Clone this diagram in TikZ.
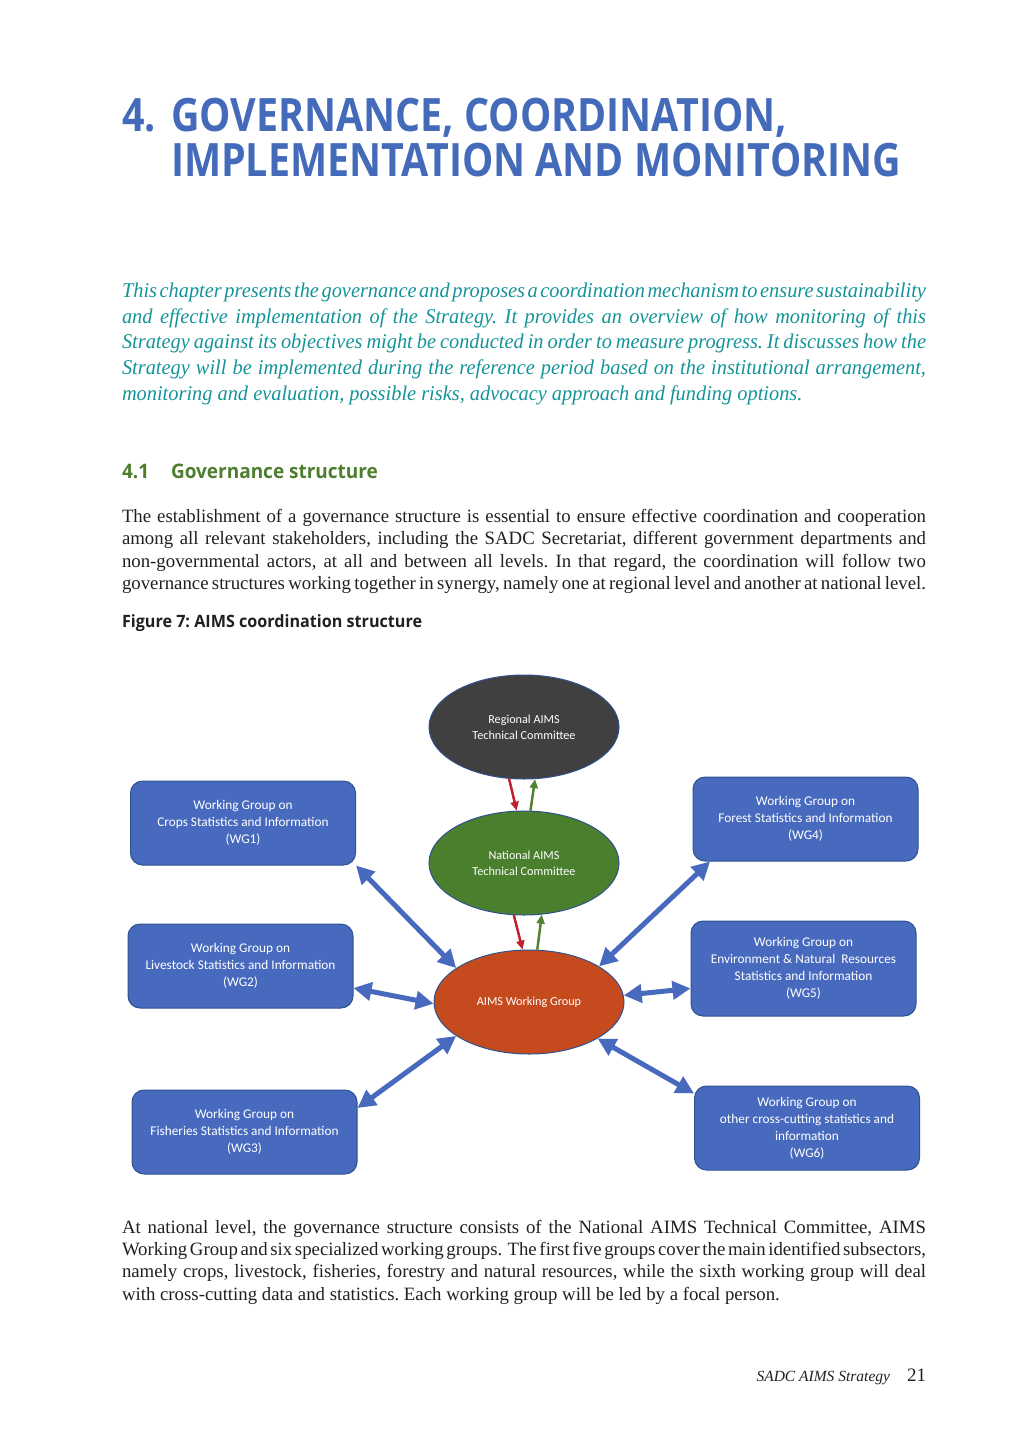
\documentclass[tikz,border=0pt]{standalone}
\usepackage{fontspec}
\setmainfont{Liberation Serif}
\newfontfamily\titlefont[FakeStretch=0.857]{Open Sans}
\newfontfamily\headfont[FakeStretch=0.95]{Open Sans}
\newfontfamily\italfont[FakeStretch=0.97]{Liberation Serif}
\newfontfamily\boxfont{Carlito}
\usetikzlibrary{arrows.meta,shapes.geometric}
\definecolor{titleblue}{RGB}{68,107,186}
\definecolor{tealtxt}{RGB}{20,148,152}
\definecolor{secgreen}{RGB}{78,125,48}
\definecolor{bodytxt}{RGB}{35,31,32}
\definecolor{wgblue}{RGB}{72,106,190}
\definecolor{wgborder}{RGB}{47,82,143}
\definecolor{regfill}{RGB}{64,64,64}
\definecolor{natfill}{RGB}{74,127,46}
\definecolor{aimsfill}{RGB}{197,75,30}
\definecolor{redarrow}{RGB}{192,32,48}
\definecolor{greenarrow}{RGB}{84,130,53}
\newcommand\jl[1]{{\spaceskip=.25em plus .4em minus .13em\makebox[804pt][s]{#1}}}
\frenchspacing
\begin{document}
\begin{tikzpicture}[x=1pt,y=-1pt,
  txt/.style={anchor=base west, inner sep=0, outer sep=0},
  wg/.style={draw=wgborder, fill=wgblue, rounded corners=12pt, minimum width=225pt,
    minimum height=84pt, text=white, align=center, inner sep=0, line width=1pt,
    font=\boxfont\fontsize{13.3}{17}\selectfont},
  ell/.style={ellipse, draw=wgborder, minimum width=190pt, minimum height=104pt,
    text=white, align=center, inner sep=0, line width=1pt,
    font=\boxfont\fontsize{12.2}{16}\selectfont},
  bidir/.style={draw=wgblue, line width=5pt,
    {Triangle[length=18pt,width=18pt]}-{Triangle[length=18pt,width=18pt]}},
  redarr/.style={draw=redarrow, line width=2.5pt, -{Triangle[length=9pt,width=8pt]}},
  greenarr/.style={draw=greenarrow, line width=2.5pt, -{Triangle[length=9pt,width=8pt]}},
  titletxt/.style={txt, text=titleblue, font=\titlefont\bfseries\fontsize{46}{50}\selectfont},
  itxt/.style={txt, text=tealtxt, font=\italfont\itshape\fontsize{21}{25}\selectfont},
  btxt/.style={txt, text=bodytxt, font=\fontsize{18.8}{22}\selectfont}
]
\useasboundingbox (0,0) rectangle (1024,1448);

% Title
\node[titletxt] (t0) at (122,131) {4.};
\node[titletxt] (t1) at (171,131) {GOVERNANCE, COORDINATION,};
\node[titletxt] (t2) at (171,176) {IMPLEMENTATION AND MONITORING};

% Italic introduction
\node[itxt] (i1) at (122,297) {\jl{This chapter presents the governance and proposes a coordination mechanism to ensure sustainability}};
\node[itxt] (i2) at (122,323) {\jl{and effective implementation of the Strategy. It provides an overview of how monitoring of this}};
\node[itxt] (i3) at (122,348) {\jl{Strategy against its objectives might be conducted in order to measure progress. It discusses how the}};
\node[itxt] (i4) at (122,374) {\jl{Strategy will be implemented during the reference period based on the institutional arrangement,}};
\node[itxt] (i5) at (122,400) {monitoring and evaluation, possible risks, advocacy approach and funding options.};

% Section heading
\node[txt, text=secgreen, font=\headfont\bfseries\fontsize{20}{24}\selectfont] (s0) at (122,478) {4.1};
\node[txt, text=secgreen, font=\headfont\bfseries\fontsize{20}{24}\selectfont] (s1) at (171,478) {Governance structure};

% Body paragraph
\node[btxt] (b1) at (122,522) {\jl{The establishment of a governance structure is essential to ensure effective coordination and cooperation}};
\node[btxt] (b2) at (122,544) {\jl{among all relevant stakeholders, including the SADC Secretariat, different government departments and}};
\node[btxt] (b3) at (122,567) {\jl{non-governmental actors, at all and between all levels. In that regard, the coordination will follow two}};
\node[btxt] (b4) at (122,589) {\jl{governance structures working together in synergy, namely one at regional level and another at national level.}};

% Figure caption
\node[txt, text=bodytxt, font=\headfont\bfseries\fontsize{17}{20}\selectfont] (fc) at (122,627) {Figure 7: AIMS coordination structure};

% Diagram
\node[ell, fill=regfill] (reg) at (524,727) {Regional AIMS\\Technical Committee};
\node[ell, fill=natfill] (nat) at (524,863) {National AIMS\\Technical Committee};
\node[ell, fill=aimsfill] (aims) at (529,1002) {AIMS Working Group};

\node[wg] (wg1) at (243,823) {Working Group on\\Crops Statistics and Information\\(WG1)};
\node[wg] (wg2) at (240.5,966) {Working Group on\\Livestock Statistics and Information\\(WG2)};
\node[wg] (wg3) at (244.5,1132) {Working Group on\\Fisheries Statistics and Information\\(WG3)};
\node[wg] (wg4) at (805.5,819) {Working Group on\\Forest Statistics and Information\\(WG4)};
\node[wg, minimum height=95pt] (wg5) at (803.5,968.5) {Working Group on\\Environment \& Natural\ \ Resources\\Statistics and Information\\(WG5)};
\node[wg] (wg6) at (807,1128) {Working Group on\\other cross-cutting statistics and\\information\\(WG6)};

\draw[redarr] (reg.254) -- (nat.98);
\draw[greenarr] (nat.83) -- (reg.282);
\draw[redarr] (nat.259) -- (aims.97);
\draw[greenarr] (aims.81) -- (nat.289);

\draw[bidir] (wg1.south east) -- (aims.155);
\draw[bidir] (wg2.349) -- (aims.181);
\draw[bidir] (wg3.12) -- (aims.205);
\draw[bidir] (wg4.204) -- (aims.27);
\draw[bidir] (aims.4) -- (wg5.190);
\draw[bidir] (aims.332) -- (wg6.163);

% Bottom paragraph
\node[btxt] (c1) at (122,1233) {\jl{At national level, the governance structure consists of the National AIMS Technical Committee, AIMS}};
\node[btxt] (c2) at (122,1255) {\jl{Working Group and six specialized working groups.\ \ The first five groups cover the main identified subsectors,}};
\node[btxt] (c3) at (122,1277) {\jl{namely crops, livestock, fisheries, forestry and natural resources, while the sixth working group will deal}};
\node[btxt] (c4) at (122,1300) {with cross-cutting data and statistics. Each working group will be led by a focal person.};

% Footer
\node[txt, anchor=base east, text=bodytxt, font=\itshape\fontsize{15.5}{18}\selectfont] (f1) at (890,1381) {SADC AIMS Strategy};
\node[txt, anchor=base east, text=bodytxt, font=\fontsize{19}{22}\selectfont] (f2) at (926,1381) {21};
\end{tikzpicture}
\end{document}
